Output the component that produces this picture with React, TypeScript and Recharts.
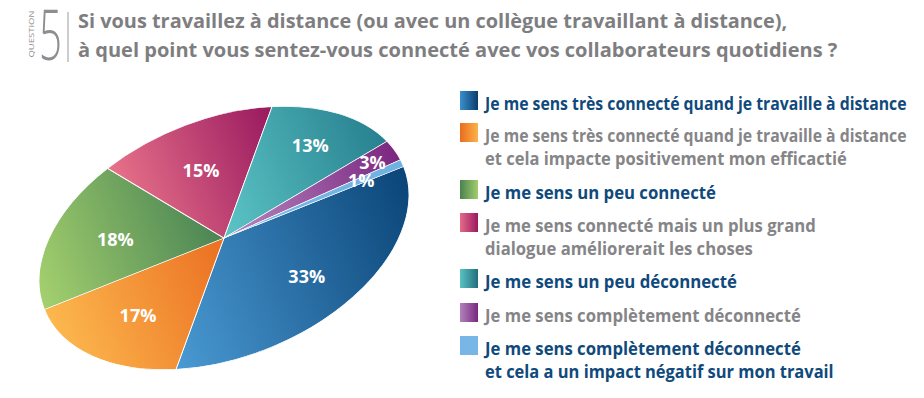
import React from "react";
import { PieChart, Pie, Cell } from "recharts";

// ---- Data ----
const categories = [
  "Je me sens très connecté quand je travaille à distance",
  "Je me sens très connecté quand je travaille à distance\net cela impacte positivement mon efficactié",
  "Je me sens un peu connecté",
  "Je me sens connecté mais un plus grand\ndialogue améliorerait les choses",
  "Je me sens un peu déconnecté",
  "Je me sens complètement déconnecté",
  "Je me sens complètement déconnecté\net cela a un impact négatif sur mon travail",
];
const values = [33, 17, 18, 15, 13, 3, 1];
const titleLines = [
  "Si vous travaillez à distance (ou avec un collègue travaillant à distance),",
  "à quel point vous sentez-vous connecté avec vos collaborateurs quotidiens ?",
];
const questionLabel = "QUESTION";
const questionNumber = "5";

// ---- Styles / layout ----
const sliceGrad = [
  ["#4a9ad3", "#0b4578"],
  ["#fcb84e", "#eb6f22"],
  ["#a4d06e", "#4a8454"],
  ["#e8728a", "#98195f"],
  ["#5cc5c6", "#27808f"],
  ["#b98ac2", "#7b2780"],
  ["#78b9e5", "#6fb2e2"],
];
const legendGrad = [
  ["#3b8fcd", "#0a3d6d"],
  ["#ea6c1e", "#fbb24a"],
  ["#4a8250", "#a2cd6c"],
  ["#e46c88", "#991a61"],
  ["#5ac2c2", "#226f7d"],
  ["#b382bb", "#78287f"],
  ["#76b7e5", "#76b7e5"],
];
const legendTextColor = ["#104a7c", "#858588", "#104a7c", "#858588", "#104a7c", "#858588", "#104a7c"];
const legendTops = [91, 123, 180, 213, 269, 303, 336];
const legendWidths = [[422], [422, 362], [231], [331, 268], [252], [316], [316, 349]];
const LABEL_R = [0.64, 0.65, 0.62, 0.6, 0.75, 0.87, 0.77];

const ROT = -21.7; // css rotation of the ellipse
const SX = 1.625; // x stretch
const R = 119;
const BOX = 260;
const CENTER_X = 224;
const CENTER_Y = 237.5;

const pieData = values.map((v, i) => ({ name: categories[i], value: v }));

const FAMILY = "'Open Sans', 'DejaVu Sans', sans-serif";

let ctx: CanvasRenderingContext2D | null = null;
function measure(text: string, weight: number, size: number): number {
  if (!ctx) ctx = document.createElement("canvas").getContext("2d");
  if (!ctx) return text.length * size * 0.55;
  ctx.font = `${weight} ${size}px ${FAMILY}`;
  return ctx.measureText(text).width;
}

function FitText(props: {
  text: string;
  x: number;
  y: number;
  width: number;
  size: number;
  weight: number;
  fill: string;
  rotate?: number;
  anchor?: "start" | "middle";
}) {
  const { text, x, y, width, size, weight, fill, rotate = 0, anchor = "start" } = props;
  const natural = measure(text, weight, size);
  const s = natural > 0 ? width / natural : 1;
  return (
    <text
      x={0}
      y={0}
      transform={`translate(${x} ${y}) rotate(${rotate}) scale(${s} 1)`}
      fontSize={size}
      fontWeight={weight}
      fill={fill}
      fontFamily={FAMILY}
      textAnchor={anchor}
    >
      {text}
    </text>
  );
}

const renderLabel = (p: any) => {
  const { cx, cy, midAngle, outerRadius, index, value } = p;
  const r = outerRadius * LABEL_R[index];
  const rad = (-midAngle * Math.PI) / 180;
  const x = cx + r * Math.cos(rad);
  const y = cy + r * Math.sin(rad);
  return (
    <text
      key={`lbl-${index}`}
      x={x}
      y={y}
      transform={`translate(${x} ${y}) scale(${1 / SX} 1) rotate(${-ROT}) translate(${-x} ${-y})`}
      textAnchor="middle"
      dominantBaseline="central"
      fill="#ffffff"
      fontSize={18}
      fontWeight={700}
      fontFamily={FAMILY}
    >
      {value}%
    </text>
  );
};

export default function App() {
  return (
    <div style={{ position: "absolute", left: 0, top: 0, width: 924, height: 398, background: "#fff", overflow: "hidden" }}>
      <div
        style={{
          position: "absolute",
          left: CENTER_X - BOX / 2,
          top: CENTER_Y - BOX / 2,
          width: BOX,
          height: BOX,
          transform: `rotate(${ROT}deg) scale(${SX}, 1)`,
          transformOrigin: `${BOX / 2}px ${BOX / 2}px`,
        }}
      >
        <PieChart width={BOX} height={BOX} margin={{ top: 0, right: 0, bottom: 0, left: 0 }}>
          <defs>
            {sliceGrad.map((g, i) => (
              <linearGradient key={i} id={`sg${i}`} x1="0" y1="0" x2="1" y2="0">
                <stop offset="0%" stopColor={g[0]} />
                <stop offset="100%" stopColor={g[1]} />
              </linearGradient>
            ))}
          </defs>
          <Pie
            data={pieData}
            dataKey="value"
            nameKey="name"
            cx="50%"
            cy="50%"
            outerRadius={R}
            startAngle={0}
            endAngle={-360}
            stroke="#ffffff"
            strokeWidth={0.6}
            label={renderLabel}
            labelLine={false}
            isAnimationActive={false}
          >
            {pieData.map((_, i) => (
              <Cell key={i} fill={`url(#sg${i})`} />
            ))}
          </Pie>
        </PieChart>
      </div>

      <svg width={924} height={398} style={{ position: "absolute", left: 0, top: 0 }}>
        <defs>
          {legendGrad.map((g, i) => (
            <linearGradient key={i} id={`lg${i}`} x1="0" y1="0" x2="1" y2="0">
              <stop offset="0%" stopColor={g[0]} />
              <stop offset="100%" stopColor={g[1]} />
            </linearGradient>
          ))}
        </defs>
        {/* Question header */}
        <FitText text={questionLabel} x={33.5} y={34} width={47} size={8} weight={400} fill="#8e8e90" rotate={-90} anchor="middle" />
        <FitText text={questionNumber} x={39} y={60} width={23} size={70} weight={300} fill="#8e8e90" />
        <line x1={68} y1={12} x2={68} y2={62} stroke="#9a9a9c" strokeWidth={1} />
        {titleLines.map((t, i) => (
          <FitText key={i} text={t} x={78} y={28 + i * 29} width={i === 0 ? 710 : 760} size={20} weight={700} fill="#7e7e81" />
        ))}
        {/* Legend */}
        {categories.map((c, i) => {
          const lines = c.split("\n");
          const top = legendTops[i];
          return (
            <g key={i}>
              <rect x={460} y={top} width={18} height={19} fill={`url(#lg${i})`} />
              {lines.map((ln, j) => (
                <FitText
                  key={j}
                  text={ln}
                  x={485}
                  y={top + 18.5 + j * 23}
                  width={legendWidths[i][j]}
                  size={17}
                  weight={700}
                  fill={legendTextColor[i]}
                />
              ))}
            </g>
          );
        })}
      </svg>
    </div>
  );
}
